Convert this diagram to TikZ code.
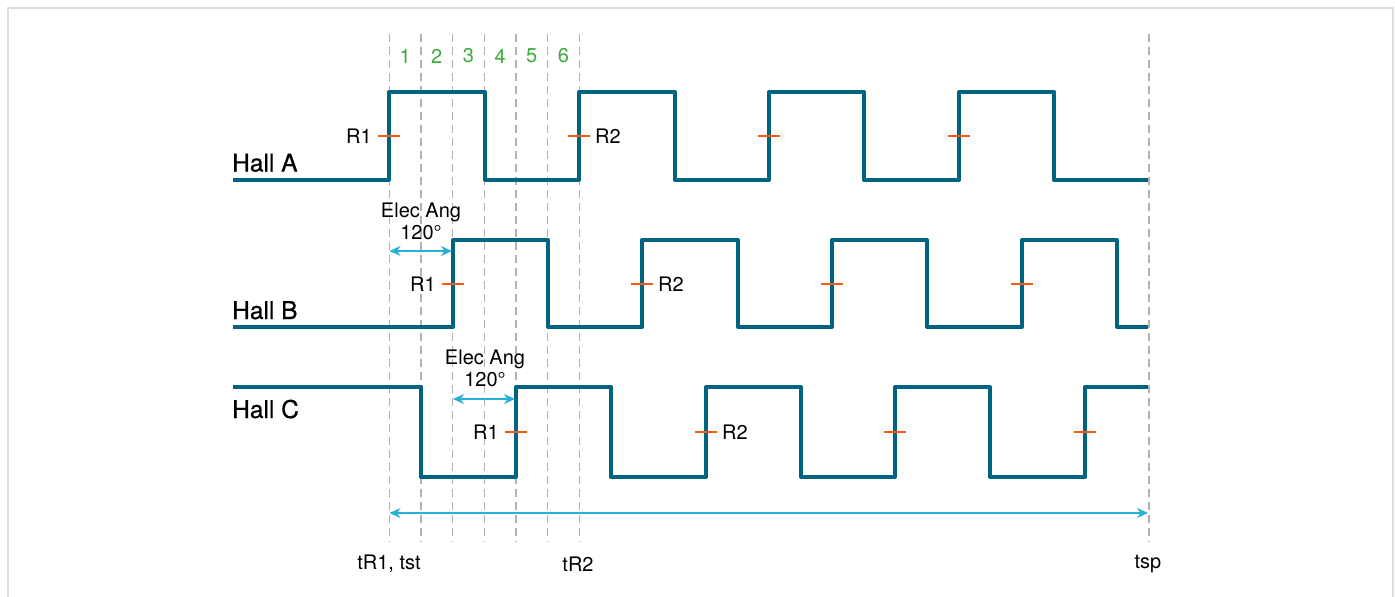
\documentclass[tikz,border=0pt]{standalone}
\usepackage{fontspec}
\setmainfont{TeX Gyre Heros}
\newfontfamily\hallfont[FakeBold=0.7]{TeX Gyre Heros}
\usetikzlibrary{arrows.meta}
\definecolor{hallteal}{RGB}{0,99,128}
\definecolor{rorange}{RGB}{255,88,20}
\definecolor{angcyan}{RGB}{38,178,214}
\definecolor{gridgray}{RGB}{178,178,178}
\definecolor{sectgreen}{RGB}{58,172,58}
\definecolor{framegray}{RGB}{222,222,222}

\begin{document}
\begin{tikzpicture}[x=1pt, y=-1pt,
  signal/.style={hallteal, line width=4pt, line join=round},
  gridline/.style={gridgray, line width=1.4pt, dash pattern=on 8pt off 5pt},
  rtick/.style={rorange, line width=2pt},
  angarrow/.style={angcyan, line width=1.5pt, {Stealth[length=11pt,width=10pt]}-{Stealth[length=11pt,width=10pt]}},
  label/.style={font=\fontsize{20}{22}\selectfont, inner sep=0pt},
  hall/.style={font=\hallfont\fontsize{24.5}{28}\selectfont, anchor=base west, inner sep=0pt}]
  \useasboundingbox (0,0) rectangle (1395,597);
  \draw[framegray, line width=1.5pt] (8,610) -- (8,8) -- (1393,8) -- (1393,610);

  % sector lines and numbers
  \foreach \k in {0,...,6}
    \draw[gridline] (389.3+31.65*\k,34) coordinate (g\k) -- (389.3+31.65*\k,542);
  \draw[gridline] (1148.9,34) coordinate (gsp) -- (1148.9,542);
  \foreach \k in {1,...,6}
    \node[label, text=sectgreen] (s\k) at (373.5+31.65*\k,56) {\k};

  % hall signals
  \draw[signal] (233,180) -| (389,92) -| (485,180) -| (579,92) -| (675,180)
    -| (769,92) -| (864,180) -| (959,92) -| (1054,180) -- (1148,180);
  \draw[signal] (233,327) -| (453,240) -| (548,327) -| (642,240) -| (738,327)
    -| (832,240) -| (927,327) -| (1022,240) -| (1117,327) -- (1148,327);
  \draw[signal] (233,387) -| (421,477) -| (516,387) -| (611,477) -| (706,387)
    -| (801,477) -| (895,387) -| (990,477) -| (1085,387) -- (1148,387);

  \node[hall] (ha) at (232,171.5) {Hall A};
  \node[hall] (hb) at (232,319) {Hall B};
  \node[hall] (hc) at (232,418) {Hall C};

  % rising edge marks
  \foreach \x/\n in {389/a1,579/a2,769/a3,959/a4}
    \draw[rtick] (\x-11,136) coordinate (\n w) -- (\x+11,136) coordinate (\n e);
  \foreach \x/\n in {453/b1,642/b2,832/b3,1022/b4}
    \draw[rtick] (\x-11,284) coordinate (\n w) -- (\x+11,284) coordinate (\n e);
  \foreach \x/\n in {516/c1,706/c2,895/c3,1085/c4}
    \draw[rtick] (\x-11,432) coordinate (\n w) -- (\x+11,432) coordinate (\n e);

  \node[label, anchor=east, xshift=-6pt] (ra1) at (a1w) {R1};
  \node[label, anchor=west, xshift=5pt] (ra2) at (a2e) {R2};
  \node[label, anchor=east, xshift=-6pt] (rb1) at (b1w) {R1};
  \node[label, anchor=west, xshift=5pt] (rb2) at (b2e) {R2};
  \node[label, anchor=east, xshift=-6pt] (rc1) at (c1w) {R1};
  \node[label, anchor=west, xshift=5pt] (rc2) at (c2e) {R2};

  % electrical angle
  \coordinate (e1l) at (389.5,251);
  \coordinate (e1r) at (452,251);
  \coordinate (e2l) at (453,399);
  \coordinate (e2r) at (515,399);
  \draw[angarrow] (e1l) -- (e1r);
  \draw[angarrow] (e2l) -- (e2r);
  \node[label, align=center] (ang1) at (421,221) {Elec Ang\\120°};
  \node[label, align=center] (ang2) at (485,368) {Elec Ang\\120°};

  % time span
  \coordinate (tl) at (389.5,513);
  \coordinate (tr) at (1148,513);
  \draw[angarrow] (tl) -- (tr);
  \node[label] (tst) at (389,564) {tR1, tst};
  \node[label] (tr2) at (578,564) {tR2};
  \node[label] (tsp) at (1148,564) {tsp};
\end{tikzpicture}
\end{document}
